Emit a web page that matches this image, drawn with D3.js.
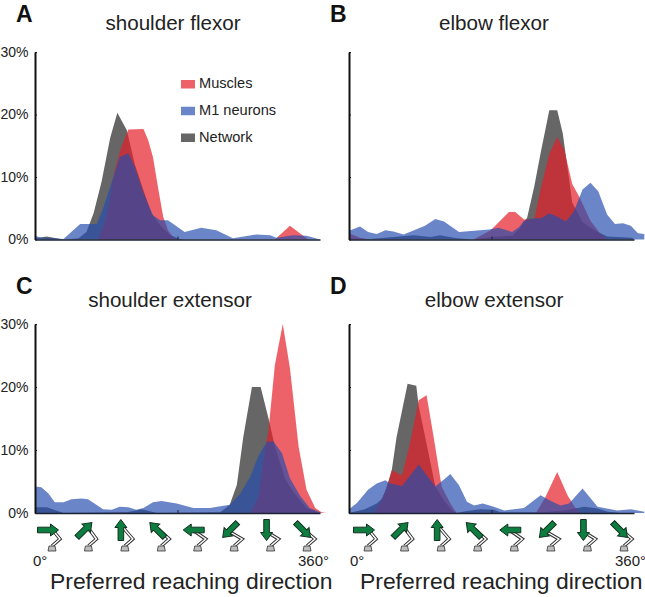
<!DOCTYPE html>
<html>
<head>
<meta charset="utf-8">
<script src="https://cdn.jsdelivr.net/npm/d3@7"></script>
<style>
  html, body { margin: 0; padding: 0; background: #fff; }
  svg { display: block; font-family: "Liberation Sans", Arial, sans-serif; fill: #222; }
</style>
</head>
<body>
<svg id="root" width="645" height="597"></svg>
<script>
// each series is a list of [direction in degrees, % of population]
const shoulderFlexorMuscles = [[0,0],[80,0],[90,3.6],[101,11.1],[109,14.8],[118,17.6],[137,17.7],[143,15.9],[149,13.2],[156,7.9],[162,3.6],[168,1.5],[175,0.3],[180,0],[303,0],[322,2.2],[345,0],[360,0]]
const shoulderFlexorNeurons = [[0,0.6],[8,0.3],[17,0.3],[36,0.1],[57,2.5],[78,2.5],[86,5],[95,8.4],[107,13.2],[118,13.8],[126,11.7],[137,7.5],[149,3.9],[158,3.1],[168,3.1],[189,1.2],[210,1.9],[229,1.5],[250,0.2],[280,0.8],[297,0.7],[305,0.3],[326,0.7],[343,0.6],[360,0],[368,0]]
const shoulderFlexorNetwork = [[0,0.2],[15,0.5],[32,0.1],[38,0],[55,0.2],[65,1.2],[74,4.2],[84,9.2],[95,16.3],[104,20.3],[116,17.5],[126,12.1],[137,7.9],[147,4.2],[158,2.3],[171,0.7],[183,0.1],[192,0],[360,0]]

const elbowFlexorMuscles = [[0,1],[14,0.3],[24,0],[157,0],[179,1.5],[191,3],[202,4.4],[210,4.4],[221,3.2],[234,3.3],[242,8],[253,13.7],[263,16.4],[272,14.3],[282,8.9],[291,6.8],[305,3],[317,1],[326,0],[360,0]]
const elbowFlexorNeurons = [[0,1.4],[14,2.1],[24,1.2],[35,0.9],[46,1.5],[56,1.3],[69,0.8],[96,2.2],[109,3.3],[120,2.9],[139,1.2],[177,1.6],[189,1.9],[206,1.2],[215,2],[221,3],[229,3.3],[244,3.5],[253,4.2],[263,3.7],[274,2.9],[284,4.5],[295,8],[305,9.1],[315,7.7],[326,4],[336,2.5],[346,2.6],[356,2.2],[365,1],[373,0.9]]
const elbowFlexorNetwork = [[0,0.2],[27,0.1],[82,0.7],[103,0.4],[115,0.7],[136,0.2],[157,0],[179,0.4],[206,0.6],[215,1.7],[225,3.5],[234,8.5],[242,13.8],[253,20.7],[263,20.7],[270,17],[276,11.5],[282,5.9],[295,2.8],[310,1.5],[326,0.5],[358,0.3],[360,0]]

const shoulderExtensorMuscles = [[0,0],[272,0],[282,2.5],[288,8],[295,13.2],[303,23.5],[313,30],[322,23],[333,10.5],[343,3.7],[354,0.8],[362,0.1],[368,0]]
const shoulderExtensorNeurons = [[0,4.2],[8,4.1],[17,3.1],[25,1.7],[36,1.7],[46,2.2],[59,2.3],[67,2.2],[86,0.6],[97,0.5],[107,1],[118,0.9],[128,0.5],[137,0.8],[149,1.7],[160,1.9],[179,1.5],[200,0.8],[221,0.8],[236,1.1],[246,1.3],[259,3],[272,5.8],[282,9],[293,11.3],[301,11.4],[312,9.5],[322,5.5],[335,2.7],[347,0.8],[362,0],[370,0]]
const shoulderExtensorNetwork = [[0,0.9],[15,0.9],[36,0],[116,0.1],[135,0.6],[154,0],[234,0.1],[246,1.3],[255,4.5],[263,12],[274,20],[285,20],[295,15],[303,10.6],[316,5.4],[326,3.4],[343,0.8],[360,0]]

const elbowExtensorMuscles = [[0,0],[31,0],[41,2],[50,4.9],[54,6.8],[67,6],[77,11],[88,17.9],[98,18.7],[107,12],[117,4.2],[128,1.5],[136,0],[236,0],[248,2.5],[263,6.5],[276,2.8],[286,0.8],[293,0],[360,0]]
const elbowExtensorNeurons = [[0,0.6],[10,1.6],[24,3.7],[35,4.7],[46,5.2],[52,4.7],[67,4.3],[88,7.7],[109,4.2],[120,5.3],[128,6.2],[139,4.4],[149,1.8],[158,1.2],[169,1.5],[183,1],[196,0.4],[221,0.8],[242,2.8],[255,1.9],[267,1.2],[278,1.5],[295,3.9],[314,1],[339,0.4],[356,0.6],[373,0.2]]
const elbowExtensorNetwork = [[0,0],[20,0.6],[35,1.5],[41,2.2],[46,3.5],[54,6.8],[60,12],[74,20.5],[85,20.2],[88,17],[98,11],[109,4.2],[120,2],[132,0.2],[136,0],[149,0.3],[166,0.6],[183,0.5],[191,0.1],[246,0.1],[272,0.4],[297,1],[314,0.7],[327,0.2],[343,0],[360,0]]

const yTicks = [0, 10, 20, 30]
const reachDirections = [0, 45, 90, 135, 180, 225, 270, 315]
const seriesNames = ['Muscles', 'M1 neurons', 'Network']
const seriesColors = ['rgba(230,30,40,0.7)', 'rgba(37,77,174,0.68)', '#666666']

const panels = [
  { letter: 'A', title: 'shoulder flexor', left: 35, top: 52, bottom: 239.5, titleX: 173, labels: true,
    muscles: shoulderFlexorMuscles, neurons: shoulderFlexorNeurons, network: shoulderFlexorNetwork },
  { letter: 'B', title: 'elbow flexor', left: 349, top: 52, bottom: 239.5, titleX: 494, labels: false,
    muscles: elbowFlexorMuscles, neurons: elbowFlexorNeurons, network: elbowFlexorNetwork },
  { letter: 'C', title: 'shoulder extensor', left: 35, top: 324, bottom: 513, titleX: 170, labels: true,
    arms: [52, 307], zeroX: 33, endX: 298, xlabelX: 50,
    muscles: shoulderExtensorMuscles, neurons: shoulderExtensorNeurons, network: shoulderExtensorNetwork },
  { letter: 'D', title: 'elbow extensor', left: 349, top: 324, bottom: 513, titleX: 494, labels: false,
    arms: [368, 624], zeroX: 350, endX: 615, xlabelX: 360,
    muscles: elbowExtensorMuscles, neurons: elbowExtensorNeurons, network: elbowExtensorNetwork }
]

const plotWidth = 285
const svg = d3.select('#root')

panels.forEach(p => {
  const xScale = d3.scaleLinear().domain([0, 360]).range([p.left, p.left + plotWidth])
  const yScale = d3.scaleLinear().domain([0, 30]).range([p.bottom, p.top])
  const area = d3.area().x(d => xScale(d[0])).y0(p.bottom).y1(d => yScale(d[1]))

  // network goes underneath, the two see-through layers sit on top of it
  svg.append('path').attr('d', area(p.network)).attr('fill', seriesColors[2])
  svg.append('path').attr('d', area(p.muscles)).attr('fill', seriesColors[0])
  svg.append('path').attr('d', area(p.neurons)).attr('fill', seriesColors[1])

  const yAxis = d3.axisLeft(yScale)
    .tickValues(yTicks)
    .tickSizeInner(-2)
    .tickSizeOuter(0)
    .tickPadding(6.5)
    .tickFormat(d => p.labels ? `${d}%` : '')

  const xAxis = d3.axisBottom(xScale)
    .tickValues([180])
    .tickSizeInner(-3)
    .tickSizeOuter(0)
    .tickFormat('')

  const yGroup = svg.append('g').attr('transform', `translate(${p.left},0)`).call(yAxis)
  yGroup.select('.domain').attr('stroke', '#111').attr('stroke-width', 2)
  yGroup.selectAll('.tick line').attr('stroke', '#111')
  yGroup.selectAll('text').attr('font-size', 14).attr('fill', '#222').attr('font-family', 'Liberation Sans')

  const xGroup = svg.append('g').attr('transform', `translate(0,${p.bottom})`).call(xAxis)
  xGroup.select('.domain').attr('stroke', '#1a2233').attr('stroke-width', 1.5)
  xGroup.selectAll('.tick line').attr('stroke', '#1a2233')

  svg.append('text')
    .attr('x', p.titleX)
    .attr('y', p.top === 52 ? 30 : 307)
    .attr('text-anchor', 'middle')
    .attr('font-size', 20.6)
    .text(p.title)

  svg.append('text')
    .attr('x', p.left - 19)
    .attr('y', p.top === 52 ? 22 : 294)
    .attr('font-size', 23)
    .attr('font-weight', 'bold')
    .attr('fill', '#111')
    .text(p.letter)

  if (p.arms) drawArms(p)
})

// legend, panel A only
const legendY = d3.scalePoint().domain(seriesNames).range([84, 137.5])
const legend = svg.selectAll('g.legend')
  .data(seriesNames)
  .enter()
  .append('g')
  .attr('class', 'legend')
  .attr('transform', d => `translate(181,${legendY(d)})`)

legend.append('rect')
  .attr('y', -4)
  .attr('width', 14)
  .attr('height', 8.5)
  .attr('fill', (d, i) => seriesColors[i])

legend.append('text')
  .attr('x', 18)
  .attr('y', 4)
  .attr('font-size', 14.6)
  .text(d => d)

function drawArms(p) {
  const baseX = d3.scaleLinear().domain([0, 315]).range(p.arms)
  const baseY = 549

  const arm = svg.selectAll(null)
    .data(reachDirections)
    .enter()
    .append('g')
    .attr('transform', d => `translate(${baseX(d)},${baseY})`)

  const linkPath = d => {
    const a = d * Math.PI / 180
    const hx = -1 + 2.5 * Math.cos(a)
    const hy = -18 - 2.5 * Math.sin(a)
    return `M0,-3L8,-10L${hx},${hy}`
  }

  arm.append('path').attr('d', linkPath).attr('fill', 'none').attr('stroke', '#333').attr('stroke-width', 3.4)
  arm.append('path').attr('d', linkPath).attr('fill', 'none').attr('stroke', '#fff').attr('stroke-width', 1.4)

  arm.append('path')
    .attr('d', 'M-3,-3L3,-3L4,2L-4,2Z')
    .attr('fill', '#bdbdbd')
    .attr('stroke', '#333')
    .attr('stroke-width', 0.8)

  // green arrow, drawn pointing right then turned to the reach direction
  arm.append('path')
    .attr('d', 'M-10.5,-2.8L2.5,-2.8L2.5,-6L10.5,0L2.5,6L2.5,2.8L-10.5,2.8Z')
    .attr('transform', d => `translate(-4,-19)rotate(${-d})`)
    .attr('fill', '#0d7d40')
    .attr('stroke', '#12301f')
    .attr('stroke-width', 1)

  svg.append('text')
    .attr('x', p.zeroX)
    .attr('y', 566)
    .attr('font-size', 15)
    .text('0°')

  svg.append('text')
    .attr('x', p.endX)
    .attr('y', 566)
    .attr('font-size', 15)
    .text('360°')

  svg.append('text')
    .attr('x', p.xlabelX)
    .attr('y', 589)
    .attr('font-size', 22.9)
    .text('Preferred reaching direction')
}
</script>
</body>
</html>
